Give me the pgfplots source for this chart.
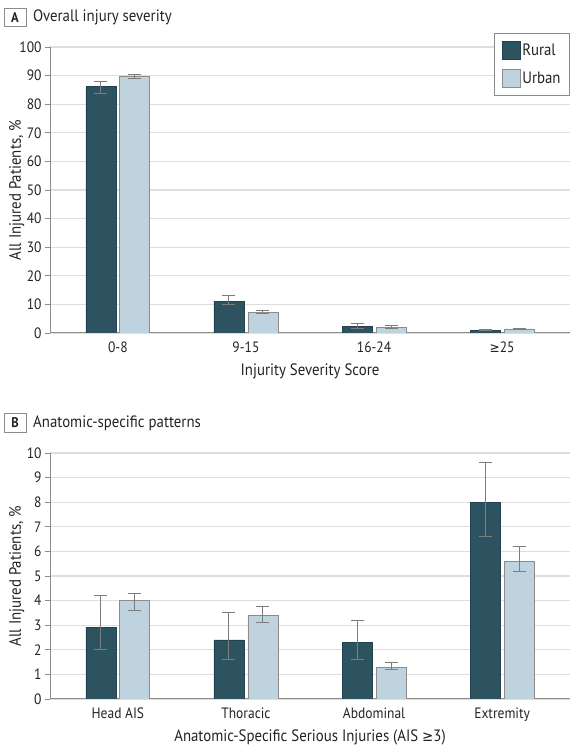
\documentclass[border=0pt]{standalone}
\usepackage{pgfplots}
\pgfplotsset{compat=1.18}
\usepackage{pgfplotstable}
\usepackage{fontspec}
\setmainfont{PT Sans}[FakeStretch=0.9]
\newfontfamily\symf{DejaVu Sans}[Scale=0.9,FakeStretch=0.9]
\definecolor{rural}{RGB}{45,82,96}
\definecolor{urban}{RGB}{190,211,221}
\definecolor{gridc}{RGB}{222,222,222}
\definecolor{errc}{RGB}{125,125,125}
\definecolor{axc}{RGB}{140,140,140}
\definecolor{txt}{RGB}{35,35,35}

\pgfplotstableread{
x y ep em
0 86.3 1.7 2.4
1 11.1 2.1 1.0
2 2.4 1.0 0.9
3 0.9 0.2 0.2
}\ruralA
\pgfplotstableread{
x y ep em
0 89.8 0.5 0.7
1 7.2 0.5 0.4
2 2.0 0.5 0.4
3 1.4 0.1 0.1
}\urbanA
\pgfplotstableread{
x y ep em
0 2.9 1.3 0.9
1 2.4 1.1 0.8
2 2.3 0.9 0.7
3 8.0 1.6 1.4
}\ruralB
\pgfplotstableread{
x y ep em
0 4.0 0.3 0.4
1 3.4 0.35 0.3
2 1.3 0.2 0.1
3 5.6 0.6 0.4
}\urbanB

\begin{document}
\begin{tikzpicture}
\useasboundingbox (0pt,0pt) rectangle (574pt,750pt);
\pgfplotsset{
  mystyle/.style={
    scale only axis, width=520pt,
    xmin=-0.53, xmax=3.53, ymin=0,
    ybar=4pt, bar width=30pt,
    axis x line*=bottom, axis y line*=left,
    axis line style={axc, line width=1pt},
    ymajorgrids, grid style={gridc, line width=1.3pt},
    xtick={0,1,2,3},
    x tick style={draw=none},
    y tick style={axc, line width=0.8pt},
    tick align=outside, major tick length=5pt,
    /pgf/number format/assume math mode=true,
    tick label style={font=\fontsize{15}{18}\selectfont, text=txt},
    label style={font=\fontsize{16.5}{20}\selectfont, text=txt},
    ylabel style={at={(axis description cs:-0.064,0.5)}, anchor=center},
    xlabel style={at={(axis description cs:0.5,0)}, anchor=center, yshift=-38pt},
  },
  eb/.style={error bars/.cd, y dir=both, y explicit,
    error bar style={errc, line width=1pt},
    error mark options={errc, line width=1pt, mark size=6.5pt, rotate=90}},
  rplot/.style={fill=rural, draw=rural!80!black, eb},
  uplot/.style={fill=urban, draw=axc, line width=0.8pt, eb},
}
% Panel A
\begin{axis}[mystyle, at={(50pt,417pt)}, anchor=south west, height=286pt,
  ymax=100, ytick={0,10,...,100},
  xticklabels={0-8,9-15,16-24,{\symf ≥}25},
  xlabel={Injurity Severity Score},
  ylabel={All Injured Patients, \%},
  legend style={at={(axis cs:3.53,105)}, anchor=north east, draw=axc, line width=0.8pt,
    font=\fontsize{16.5}{20}\selectfont, text=txt, row sep=9pt, inner xsep=7pt, inner ysep=8pt},
  legend cell align=left,
  legend image code/.code={\draw[#1] (0pt,-9pt) rectangle (18pt,9pt);},
]
\addplot[rplot] table[x=x, y=y, y error plus=ep, y error minus=em] {\ruralA};
\addplot[uplot] table[x=x, y=y, y error plus=ep, y error minus=em] {\urbanA};
\legend{Rural, Urban}
\end{axis}
% Panel B
\begin{axis}[mystyle, at={(50pt,51pt)}, anchor=south west, height=246pt,
  ymax=10, ytick={0,1,...,10},
  xticklabels={Head AIS,Thoracic,Abdominal,Extremity},
  xlabel={Anatomic-Specific Serious Injuries (AIS {\symf ≥}3)},
  ylabel={All Injured Patients, \%},
]
\addplot[rplot] table[x=x, y=y, y error plus=ep, y error minus=em] {\ruralB};
\addplot[uplot] table[x=x, y=y, y error plus=ep, y error minus=em] {\urbanB};
\end{axis}
% Panel labels
\node[draw=axc, line width=0.8pt, minimum width=22pt, minimum height=18pt, inner sep=0pt,
  font=\fontsize{14}{16}\selectfont\bfseries, text=txt] at (15pt,732.5pt) {A};
\node[anchor=west, font=\fontsize{16.5}{20}\selectfont, text=txt, inner sep=0pt] at (33pt,732.5pt) {Overall injury severity};
\node[draw=axc, line width=0.8pt, minimum width=22pt, minimum height=19pt, inner sep=0pt,
  font=\fontsize{14}{16}\selectfont\bfseries, text=txt] at (15pt,327pt) {B};
\node[anchor=west, font=\fontsize{16.5}{20}\selectfont, text=txt, inner sep=0pt] at (33pt,327pt) {Anatomic-specific patterns};
\end{tikzpicture}
\end{document}
